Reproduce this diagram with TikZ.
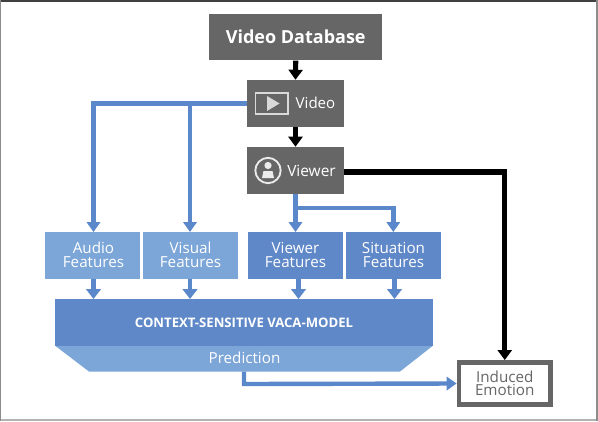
\documentclass[tikz,border=0pt]{standalone}
\usepackage{fontspec}
\setmainfont{Open Sans}
\usetikzlibrary{arrows.meta}
\definecolor{dgray}{HTML}{666666}
\definecolor{lblue}{HTML}{7CA5D8}
\definecolor{mblue}{HTML}{5F88C8}
\definecolor{ablue}{HTML}{5B87CB}
\tikzset{
 x=0.75pt,y=-0.75pt,
 box/.style={draw=none,inner sep=0pt,minimum height=35.25pt,align=center,text=white},
 gbox/.style={box,fill=dgray},
 lbox/.style={box,fill=lblue,minimum width=71.6pt,font=\fontsize{11.4pt}{10.1pt}\selectfont},
 mbox/.style={box,fill=mblue,minimum width=71.6pt,font=\fontsize{11.4pt}{10.1pt}\selectfont},
 karrow/.style={draw=black,line width=3.8pt,-{Triangle[length=7.5pt,width=10.5pt]}},
 barrow/.style={draw=ablue,line width=3.3pt,-{Triangle[length=7.5pt,width=10pt]}},
 small/.style={draw=ablue,line width=3.6pt,-{Triangle[length=7.5pt,width=11pt]}},
}
\begin{document}
\begin{tikzpicture}
\useasboundingbox (0,0) rectangle (598,421);
\fill[white] (0,0) rectangle (598,421);
\draw[draw=black!75,line width=1.5pt] (0,0.5) -- (598,0.5);
\draw[draw=black!30,line width=1pt] (0,420) -- (598,420);
\draw[draw=black!45,line width=1pt] (0.5,0) -- (0.5,421);
\draw[draw=black!45,line width=1pt] (597,0) -- (597,421);
% boxes
\node[gbox,minimum width=129.4pt,minimum height=34.9pt,font=\bfseries\fontsize{13.5pt}{16pt}\selectfont] (db) at (295.75,37) {Video Database};
\node[gbox,minimum width=72.75pt] (video) at (295.5,103.5) {};
\node[gbox,minimum width=72.75pt] (viewer) at (295.5,170.5) {};
\node[lbox] (audio) at (92.5,255) {\hspace*{1.5pt}Audio\\\hspace*{1.5pt}Features};
\node[lbox] (visual) at (190.5,255) {Visual\\Features};
\node[mbox] (vf) at (295.5,255) {Viewer\\Features};
\node[mbox] (sf) at (393.5,255) {Situation\\Features};
\node[fill=mblue,inner sep=0pt,minimum width=283.5pt,minimum height=35pt,text=white,font=\bfseries\fontsize{9.85pt}{10pt}\selectfont] (model) at (244,322.5) {CONTEXT-SENSITIVE VACA-MODEL};
\path[fill=lblue] (55.5,346) -- (432.5,346) -- (400,371.5) -- (89,371.5) -- cycle;
\coordinate (predb) at (244,371.5);
\node[text=white,font=\fontsize{11.4pt}{12pt}\selectfont,inner sep=0pt] (pred) at (244.5,358) {Prediction};
\node[draw=dgray,line width=3.6pt,fill=white,inner sep=0pt,minimum width=68.6pt,minimum height=31.6pt,align=center,text=dgray,font=\fontsize{11.4pt}{10.1pt}\selectfont] (ie) at (504.75,383.5) {Induced\\Emotion};
% icons and labels
\node[text=white,font=\fontsize{11.3pt}{12pt}\selectfont,inner sep=0pt] (vl) at (315.5,103) {Video};
\node[text=white,font=\fontsize{11.6pt}{12pt}\selectfont,inner sep=0pt] (wl) at (311.5,170.5) {Viewer};
\node[draw=white!85!black,line width=1.25pt,minimum width=24.5pt,minimum height=16pt,inner sep=0pt] (play) at (271.7,103.5) {};
\path[fill=white!85!black] (267,96) -- (279.5,103.5) -- (267,111) -- cycle;
\node[draw=white!92!black,line width=1.4pt,circle,minimum size=19pt,inner sep=0pt] (pers) at (268,170.5) {};
\fill[white!92!black] (268,165.5) circle (3.6);
\path[fill=white!92!black] (262,178) -- (263.5,171) -- (272.5,171) -- (274,178) -- cycle;
% connectors
\draw[karrow] (db.south) -- (video.north);
\draw[karrow] (video.south) -- (viewer.north);
\draw[karrow] (viewer.east |- 0,172) -| (ie.north);
\coordinate (j1) at (190,103);
\draw[barrow] (video.west) -| (93.5,232);
\draw[barrow] (j1) -- (190,232);
\draw[barrow] (viewer.south) -- (295.5,232);
\coordinate (j2) at (295.5,208);
\draw[barrow] (j2) -| (393.3,232);
\draw[small] (93.5,279) -- (93.5,299);
\draw[small] (190,279) -- (190,299);
\draw[small] (298.5,279) -- (298.5,299);
\draw[small] (394.5,279) -- (394.5,299);
\draw[barrow] (predb) -- (244,384) -- (ie.west);
\end{tikzpicture}
\end{document}
